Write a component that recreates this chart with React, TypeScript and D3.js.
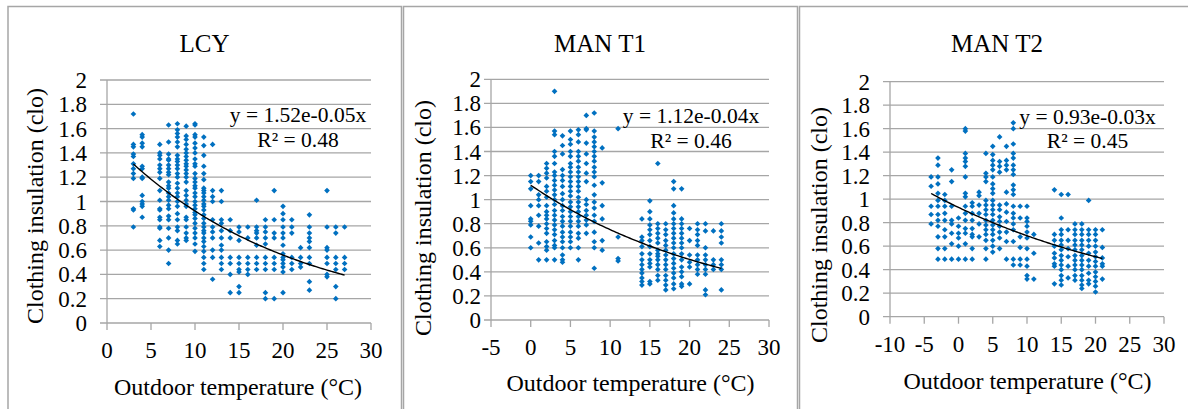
import * as d3 from 'd3';
import React from 'react';

// ---- data: temperature columns and clothing values ----
const lcyTemps = [3, 4, 6, 7, 8, 9, 10, 11, 12, 13, 14, 15, 16, 17, 18, 19, 20, 21, 22, 23, 25, 26, 27];
const lcyClo = [
    [1.72, 1.47, 1.45, 1.39, 1.37, 1.31, 1.27, 1.23, 1.19, 0.94, 0.93, 0.79],
    [1.55, 1.53, 1.48, 1.45, 1.29, 1.27, 1.2, 1.19, 1.05, 1.0, 0.98, 0.96, 0.87],
    [1.47, 1.4, 1.38, 1.35, 1.3, 1.27, 1.24, 1.19, 1.09, 1.01, 0.94, 0.93, 0.87, 0.85, 0.79, 0.78, 0.68, 0.63],
    [1.63, 1.49, 1.39, 1.35, 1.34, 1.3, 1.27, 1.24, 1.22, 1.16, 1.13, 1.11, 1.07, 1.04, 1.01, 0.97, 0.94, 0.88, 0.85, 0.78, 0.7, 0.6, 0.49],
    [1.64, 1.59, 1.56, 1.53, 1.49, 1.45, 1.38, 1.35, 1.33, 1.3, 1.27, 1.23, 1.2, 1.15, 1.11, 1.07, 1.04, 1.0, 0.96, 0.9, 0.85, 0.79, 0.76, 0.68, 0.65],
    [1.62, 1.54, 1.51, 1.47, 1.43, 1.4, 1.37, 1.34, 1.31, 1.29, 1.26, 1.23, 1.2, 1.16, 1.09, 1.05, 1.01, 0.98, 0.96, 0.87, 0.85, 0.79, 0.74, 0.7, 0.68],
    [1.64, 1.63, 1.55, 1.53, 1.48, 1.44, 1.4, 1.35, 1.31, 1.29, 1.23, 1.19, 1.16, 1.13, 1.11, 1.07, 1.04, 1.0, 0.97, 0.94, 0.91, 0.89, 0.86, 0.82, 0.78, 0.74, 0.7, 0.65, 0.59],
    [1.53, 1.46, 1.38, 1.29, 1.23, 1.18, 1.11, 1.09, 1.07, 1.04, 1.01, 0.98, 0.96, 0.93, 0.89, 0.86, 0.82, 0.79, 0.76, 0.74, 0.7, 0.67, 0.63, 0.59, 0.54, 0.49, 0.44],
    [1.47, 1.09, 1.04, 1.0, 0.85, 0.79, 0.75, 0.7, 0.6, 0.54, 0.36],
    [1.09, 1.0, 0.85, 0.82, 0.76, 0.7, 0.64, 0.6, 0.54, 0.49, 0.44],
    [0.85, 0.76, 0.7, 0.54, 0.49, 0.4, 0.25],
    [0.79, 0.75, 0.68, 0.54, 0.49, 0.44, 0.42, 0.3, 0.25],
    [0.79, 0.7, 0.54, 0.49, 0.44, 0.4],
    [1.01, 0.79, 0.76, 0.74, 0.7, 0.64, 0.54, 0.49, 0.44],
    [0.85, 0.79, 0.75, 0.7, 0.65, 0.54, 0.49, 0.44, 0.25, 0.2],
    [1.09, 0.85, 0.74, 0.7, 0.54, 0.49, 0.44, 0.2],
    [0.96, 0.9, 0.85, 0.79, 0.74, 0.7, 0.64, 0.57, 0.54, 0.52, 0.49, 0.46, 0.42, 0.25],
    [0.85, 0.79, 0.74, 0.54, 0.49, 0.44],
    [0.62, 0.54, 0.49, 0.46],
    [0.89, 0.79, 0.74, 0.7, 0.67, 0.62, 0.54, 0.49, 0.34, 0.27],
    [1.09, 0.79, 0.62, 0.6, 0.54, 0.49, 0.4, 0.38],
    [0.79, 0.74, 0.54, 0.49, 0.44, 0.3, 0.2],
    [0.79, 0.54, 0.49, 0.44],
];

const t1Temps = [0, 1, 2, 3, 4, 5, 6, 7, 8, 9, 11, 14, 15, 16, 17, 18, 19, 20, 21, 22, 23, 24];
const t1Clo = [
    [1.2, 1.15, 1.09, 0.95, 0.84, 0.82, 0.79, 0.69, 0.6],
    [1.2, 1.15, 1.04, 1.0, 0.95, 0.87, 0.78, 0.64, 0.5],
    [1.3, 1.26, 1.22, 1.18, 1.11, 1.07, 1.02, 0.95, 0.9, 0.87, 0.84, 0.8, 0.76, 0.72, 0.65, 0.61, 0.58, 0.5],
    [1.9, 1.57, 1.54, 1.4, 1.36, 1.3, 1.23, 1.2, 1.16, 1.12, 1.08, 1.04, 1.0, 0.96, 0.91, 0.87, 0.83, 0.79, 0.75, 0.71, 0.66, 0.62, 0.6, 0.5],
    [1.53, 1.45, 1.38, 1.25, 1.2, 1.16, 1.11, 1.05, 1.0, 0.95, 0.91, 0.86, 0.82, 0.78, 0.73, 0.69, 0.65, 0.6, 0.54, 0.5, 0.48],
    [1.57, 1.5, 1.46, 1.4, 1.36, 1.3, 1.27, 1.23, 1.19, 1.15, 1.11, 1.07, 1.03, 0.98, 0.94, 0.9, 0.86, 0.82, 0.78, 0.73, 0.69, 0.65, 0.6],
    [1.58, 1.54, 1.48, 1.4, 1.36, 1.32, 1.27, 1.23, 1.19, 1.15, 1.11, 1.07, 1.02, 0.98, 0.94, 0.9, 0.86, 0.82, 0.78, 0.72, 0.68, 0.6, 0.5],
    [1.7, 1.59, 1.58, 1.47, 1.38, 1.3, 1.22, 1.15, 1.0, 0.96, 0.91, 0.87, 0.83, 0.79, 0.72],
    [1.72, 1.57, 1.52, 1.48, 1.44, 1.4, 1.36, 1.32, 1.27, 1.23, 1.19, 1.12, 1.04, 0.98, 0.93, 0.87, 0.82, 0.73, 0.65, 0.6, 0.43],
    [1.43, 1.14, 0.95, 0.84, 0.66, 0.58],
    [1.59, 0.69, 0.51, 0.49],
    [0.84, 0.69, 0.66, 0.61, 0.55, 0.5, 0.46, 0.42, 0.39, 0.35, 0.32, 0.29],
    [0.99, 0.9, 0.84, 0.79, 0.75, 0.71, 0.66, 0.61, 0.55, 0.5, 0.47, 0.44, 0.32, 0.3],
    [1.3, 0.8, 0.76, 0.72, 0.68, 0.64, 0.58, 0.55, 0.53, 0.5, 0.46, 0.42, 0.37, 0.33],
    [0.8, 0.75, 0.71, 0.66, 0.62, 0.58, 0.54, 0.5, 0.46, 0.42, 0.37, 0.33, 0.29, 0.25],
    [1.15, 1.09, 0.95, 0.89, 0.84, 0.8, 0.76, 0.72, 0.68, 0.64, 0.6, 0.55, 0.51, 0.47, 0.43, 0.39, 0.35, 0.3, 0.26],
    [1.09, 0.84, 0.8, 0.76, 0.72, 0.68, 0.64, 0.6, 0.55, 0.5, 0.44, 0.4, 0.36, 0.3, 0.28],
    [0.76, 0.66, 0.54, 0.48, 0.44, 0.3],
    [0.8, 0.75, 0.71, 0.66, 0.62, 0.54, 0.5, 0.46, 0.42, 0.38],
    [0.8, 0.74, 0.6, 0.54, 0.5, 0.46, 0.42, 0.38, 0.25, 0.21],
    [0.74, 0.5, 0.46, 0.42],
    [0.8, 0.74, 0.69, 0.64, 0.5, 0.46, 0.42, 0.25],
];

const t2Temps = [-4, -3, -2, -1, 0, 1, 2, 3, 4, 5, 6, 7, 8, 9, 10, 11, 14, 15, 16, 17, 18, 19, 20, 21];
const t2Clo = [
    [1.19, 1.11, 0.94, 0.87, 0.79],
    [1.35, 1.29, 1.19, 1.13, 1.05, 0.99, 0.94, 0.87, 0.82, 0.77, 0.68, 0.58, 0.49],
    [1.04, 0.99, 0.94, 0.88, 0.82, 0.74, 0.68, 0.58, 0.49],
    [1.25, 1.15, 0.94, 0.82, 0.79, 0.71, 0.62, 0.49],
    [0.84, 0.77, 0.71, 0.67, 0.6, 0.49],
    [1.6, 1.58, 1.39, 1.35, 1.32, 1.28, 1.19, 1.05, 1.02, 0.94, 0.88, 0.82, 0.75, 0.71, 0.62, 0.49],
    [0.97, 0.94, 0.88, 0.82, 0.75, 0.7, 0.68, 0.58, 0.49],
    [1.06, 1.03, 0.95, 0.88, 0.79, 0.68],
    [1.39, 1.22, 1.19, 1.15, 0.99, 0.95, 0.91, 0.87, 0.82, 0.78, 0.74, 0.7, 0.65, 0.58, 0.49],
    [1.45, 1.38, 1.33, 1.29, 1.25, 1.19, 1.13, 1.09, 1.05, 0.99, 0.95, 0.91, 0.87, 0.82, 0.78, 0.74, 0.7, 0.65, 0.6, 0.55],
    [1.53, 1.32, 1.28, 1.23, 0.95, 0.91, 0.85, 0.81, 0.77, 0.72, 0.67, 0.58],
    [1.45, 1.33, 1.29, 1.25, 1.06, 0.96, 0.89, 0.81, 0.72, 0.64, 0.49],
    [1.65, 1.6, 1.47, 1.39, 1.35, 1.29, 1.25, 1.21, 1.12, 1.08, 1.04, 0.94, 0.88, 0.84, 0.79, 0.74, 0.64, 0.49, 0.44],
    [0.94, 0.84, 0.68, 0.59, 0.49, 0.44],
    [0.94, 0.84, 0.81, 0.77, 0.72, 0.67, 0.58, 0.49, 0.43, 0.35, 0.32],
    [0.7, 0.54, 0.32],
    [1.08, 0.7, 0.65, 0.6, 0.54, 0.5, 0.45, 0.43, 0.28],
    [1.04, 0.84, 0.74, 0.7, 0.65, 0.61, 0.57, 0.52, 0.48, 0.44, 0.4, 0.35, 0.31, 0.27],
    [1.04, 0.74, 0.65, 0.58, 0.51, 0.43, 0.33],
    [0.79, 0.74, 0.7, 0.65, 0.61, 0.57, 0.52, 0.48, 0.44, 0.4, 0.35, 0.31],
    [0.79, 0.74, 0.7, 0.65, 0.61, 0.57, 0.52, 0.48, 0.44, 0.4, 0.35, 0.31, 0.27, 0.24],
    [0.99, 0.74, 0.7, 0.65, 0.6, 0.54, 0.48, 0.43, 0.37, 0.31, 0.28],
    [0.74, 0.7, 0.65, 0.6, 0.55, 0.51, 0.47, 0.43, 0.38, 0.34, 0.3, 0.26, 0.21],
    [0.74, 0.59, 0.5, 0.45, 0.43, 0.32],
];

// exponential trend lines y = a * e^(b x), as printed on the chart
const fitA = [1.52, 1.12, 0.93];
const fitB = [-0.05, -0.04, -0.03];
const fitR2 = ['0.48', '0.46', '0.45'];
const fitRange = [[3, 27], [0, 24], [-4, 21]];

const panelTitles = ['LCY', 'MAN T1', 'MAN T2'];
const xDomains = [[0, 30], [-5, 30], [-10, 30]];
const yTicks = [0, 0.2, 0.4, 0.6, 0.8, 1, 1.2, 1.4, 1.6, 1.8, 2];

// ---- layout (pixels) ----
const layouts = [
    { bx1: 8, bx2: 401.5, left: 107, right: 371, top: 80, bottom: 323, titleX: 204.5, eqX: 298, eqY1: 122, eqY2: 147, xtX: 238, xtY: 395, ytX: 43, ytY: 206, ylRight: 87, xlY: 358 },
    { bx1: 403.5, bx2: 797.5, left: 491, right: 769, top: 79.3, bottom: 320, titleX: 600, eqX: 691, eqY1: 123, eqY2: 148, xtX: 630.5, xtY: 390.5, ytX: 431, ytY: 218, ylRight: 481, xlY: 355 },
    { bx1: 799.5, bx2: 1200, left: 890, right: 1164, top: 81.7, bottom: 316.7, titleX: 997, eqX: 1087.5, eqY1: 124, eqY2: 148, xtX: 1027.5, xtY: 389, ytX: 827, ytY: 225, ylRight: 870, xlY: 352 },
];

const FONT = '"Liberation Serif", "Times New Roman", serif';
const GRID = '#a6a6a6';
const BLUE = '#0070c0';

const diamond = d3.symbol().type(d3.symbolSquare).size(16)();

const Panel = ({ i }: { i: number }) => {
    const L = layouts[i];
    const temps = [lcyTemps, t1Temps, t2Temps][i];
    const clo = [lcyClo, t1Clo, t2Clo][i];

    const xScale = d3.scaleLinear().domain(xDomains[i]).range([L.left, L.right]);
    const yScale = d3.scaleLinear().domain([0, 2]).range([L.bottom, L.top]);
    const xTicks = d3.range(xDomains[i][0], xDomains[i][1] + 1, 5);

    const points: [number, number][] = [];
    temps.forEach((t, k) => clo[k].forEach((c) => points.push([t, c])));

    const fitXs = d3.range(fitRange[i][0], fitRange[i][1] + 0.001, 0.25);
    const line = d3.line<number>()
        .x((t) => xScale(t))
        .y((t) => yScale(fitA[i] * Math.exp(fitB[i] * t)));

    const eq = `y = ${fitA[i].toFixed(2)}e${fitB[i].toFixed(2)}x`;

    return (
        <g>
            {/* panel frame */}
            <path d={`M${L.bx1},420 V6.5 H${L.bx2}${i < 2 ? ' V420' : ''}`} fill="none" stroke={GRID} strokeWidth={1.5} />

            {/* grid lines + y tick marks */}
            {yTicks.map((v) => (
                <line key={v} x1={L.left - 7} x2={L.right} y1={yScale(v)} y2={yScale(v)} stroke={GRID} strokeWidth={1.3} />
            ))}
            {/* y axis and x tick marks */}
            <line x1={L.left} x2={L.left} y1={L.top} y2={L.bottom + 7} stroke={GRID} strokeWidth={1.3} />
            {xTicks.slice(1).map((t) => (
                <line key={t} x1={xScale(t)} x2={xScale(t)} y1={L.bottom} y2={L.bottom + 7} stroke={GRID} strokeWidth={1.3} />
            ))}

            {yTicks.map((v) => (
                <text key={v} x={L.ylRight} y={yScale(v)} dy="0.35em" textAnchor="end" fontSize={23} fontFamily={FONT}>{String(+v.toFixed(1))}</text>
            ))}
            {xTicks.map((t) => (
                <text key={t} x={xScale(t)} y={L.xlY} textAnchor="middle" fontSize={23} fontFamily={FONT}>{t}</text>
            ))}

            {points.map(([t, c], k) => (
                <path key={k} d={diamond} transform={`translate(${xScale(t)},${yScale(c)}) rotate(45)`} fill={BLUE} />
            ))}

            <path d={line(fitXs) || ''} fill="none" stroke="#000" strokeWidth={1.4} />

            <text x={L.titleX} y={51.7} textAnchor="middle" fontSize={25} fontFamily={FONT}>{panelTitles[i]}</text>
            <text x={L.eqX} y={L.eqY1} textAnchor="middle" fontSize={21.5} fontFamily={FONT}>{eq}</text>
            <text x={L.eqX} y={L.eqY2} textAnchor="middle" fontSize={21.5} fontFamily={FONT}>{`R² = ${fitR2[i]}`}</text>
            <text x={L.xtX} y={L.xtY} textAnchor="middle" fontSize={24} fontFamily={FONT}>Outdoor temperature (°C)</text>
            <text transform={`translate(${L.ytX},${L.ytY}) rotate(-90)`} textAnchor="middle" fontSize={24} fontFamily={FONT}>Clothing insulation (clo)</text>
        </g>
    );
};

export default function App() {
    return (
        <svg width={1188} height={409} style={{ position: 'absolute', left: 0, top: 0, background: '#fff' }}>
            <rect width={1188} height={409} fill="#fff" />
            {[0, 1, 2].map((i) => <Panel key={i} i={i} />)}
        </svg>
    );
}
